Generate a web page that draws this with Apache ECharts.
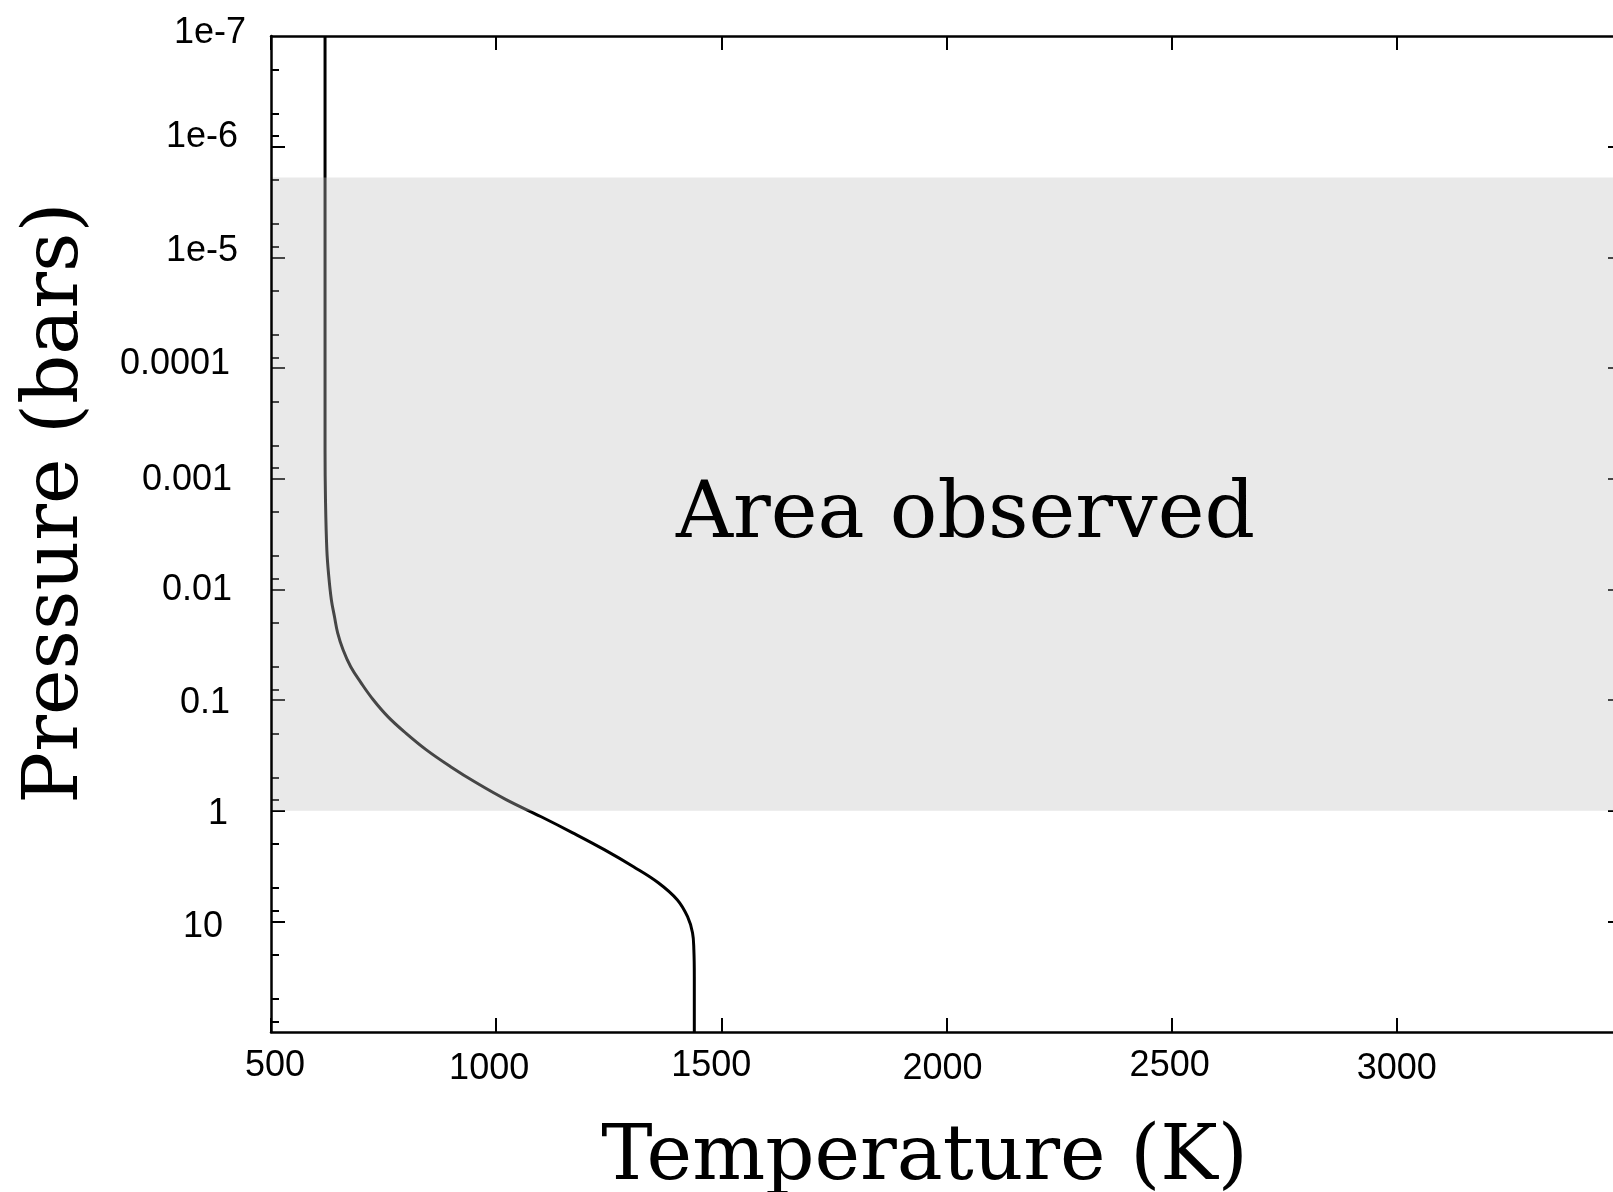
<!DOCTYPE html>
<html>
<head>
<meta charset="utf-8">
<title>Temperature–pressure profile</title>
<script src="https://cdn.jsdelivr.net/npm/echarts@6/dist/echarts.min.js"></script>
<style>
  html, body { margin: 0; padding: 0; background: #fff; overflow: hidden; }
  /* the plot frame runs a little past the right edge of the window */
  #chart { width: 1640px; height: 1192px; }
</style>
</head>
<body>
<div id="chart"></div>
<script>
// Temperature (K) of the profile at each pressure level (bars)
const pressureBar = [1e-7, 1e-5, 1e-4, 5.5e-4, 1.55e-3, 4.4e-3, 7.4e-3, 0.0124, 0.0177, 0.0247,
  0.0352, 0.0501, 0.070, 0.0995, 0.142, 0.200, 0.282, 0.398, 0.560, 0.794, 1.135, 1.585,
  2.25, 3.21, 4.48, 6.38, 9.08, 12.7, 18.1, 31.6, 100];
const temperatureK = [620, 620, 620, 620, 621, 624, 628, 634, 641, 648,
  660, 677, 700, 727, 760, 800, 845, 898, 956, 1022, 1100, 1170,
  1240, 1305, 1360, 1402, 1425, 1436, 1439, 1440, 1440];

// Pressure range covered by the observations
const observedBand = [1.9e-6, 1];
const observedLabel = 'Area observed';

// Axis ticks and labels
const xTicks = [500, 1000, 1500, 2000, 2500, 3000];
const yMajor = [1e-7, 1e-6, 1e-5, 1e-4, 1e-3, 0.01, 0.1, 1, 10];
const yLabels = ['1e-7', '1e-6', '1e-5', '0.0001', '0.001', '0.01', '0.1', '1', '10'];
const yMinorFactors = [2, 5, 8];

const yMinor = [];
for (let e = -7; e <= 1; e++) {
  yMinorFactors.forEach(f => yMinor.push(f * Math.pow(10, e)));
}

const tickFont = 'Liberation Sans, Arial, Helvetica, sans-serif';
const tickFontSize = 36;
const titleFont = '"DejaVu Serif", serif';

// small per-label nudges [dx, dy] of the tick labels
const yLabelNudge = [[0, -3], [8, -10], [8, -6], [16, -4], [14, 1], [14, 1], [16, 3], [18, 3], [23, 6]];
const xLabelNudge = [[4, 1], [-7, 4], [-10, 1], [-4, 4], [-2, 1], [0, 4]];

function richFor(prefix, nudges, vertical) {
  const rich = {};
  nudges.forEach((n, i) => {
    const dx = n[0], dy = n[1];
    let pad;
    if (vertical) {
      // right-aligned, middle: extra right padding moves left, vertical padding shifts by half
      pad = [dy > 0 ? 2 * dy : 0, dx, dy < 0 ? -2 * dy : 0, 0];
    } else {
      // centred, top-aligned
      pad = [dy, dx < 0 ? -2 * dx : 0, 0, dx > 0 ? 2 * dx : 0];
    }
    rich[prefix + i] = { fontSize: tickFontSize, fontFamily: tickFont, color: '#000', padding: pad };
  });
  return rich;
}

const profile = pressureBar.map((p, i) => [temperatureK[i], p]);

const axisLineStyle = { color: '#000', width: 2.5 };
const tickStyle = { color: '#000', width: 2 };

const logY = {
  type: 'log', logBase: 10, min: 1e-7, max: 100, inverse: true,
  splitLine: { show: false }, axisLabel: { show: false }, axisTick: { show: false },
  axisLine: { show: false }
};

const chart = echarts.init(document.getElementById('chart'), null, { renderer: 'canvas' });

chart.setOption({
  animation: false,
  backgroundColor: '#fff',
  grid: { left: 271, top: 36, right: 18, bottom: 160, containLabel: false, outerBoundsMode: 'none' },
  xAxis: [
    {
      type: 'value', min: 500, max: 3500, interval: 500, position: 'bottom',
      name: 'Temperature (K)', nameLocation: 'middle', nameGap: 88,
      nameTextStyle: { fontFamily: titleFont, fontSize: 77, color: '#000', padding: [0, 44, 0, 0] },
      axisLine: { show: true, lineStyle: axisLineStyle },
      axisTick: { show: true, inside: true, length: 14, lineStyle: tickStyle },
      axisLabel: {
        show: true, margin: 15, customValues: xTicks,
        formatter: v => '{x' + xTicks.indexOf(Math.round(v)) + '|' + Math.round(v) + '}',
        rich: richFor('x', xLabelNudge, false)
      },
      splitLine: { show: false }
    },
    {
      type: 'value', min: 500, max: 3500, interval: 500, position: 'top',
      axisLine: { show: true, lineStyle: axisLineStyle },
      axisTick: { show: true, inside: true, length: 14, lineStyle: tickStyle },
      axisLabel: { show: false }, splitLine: { show: false }
    }
  ],
  yAxis: [
    Object.assign({}, logY, {
      position: 'left', z: 10,
      name: 'Pressure (bars)', nameLocation: 'middle', nameGap: 176,
      nameTextStyle: { fontFamily: titleFont, fontSize: 77, color: '#000', padding: [0, 0, 0, 62] },
      axisLine: { show: true, lineStyle: axisLineStyle },
      axisLabel: {
        show: true, margin: 25, customValues: yMajor,
        formatter: v => {
          const i = Math.round(Math.log10(v)) + 7;
          return '{y' + i + '|' + yLabels[i] + '}';
        },
        rich: richFor('y', yLabelNudge, true)
      }
    }),
    Object.assign({}, logY, {
      position: 'left', z: 0,
      axisTick: { show: true, inside: true, length: 14, lineStyle: tickStyle, customValues: yMajor.slice(1) }
    }),
    Object.assign({}, logY, {
      position: 'left', z: 0,
      axisTick: { show: true, inside: true, length: 8, lineStyle: tickStyle, customValues: yMinor }
    }),
    Object.assign({}, logY, {
      position: 'right', z: 0,
      axisLine: { show: true, lineStyle: axisLineStyle },
      axisTick: { show: true, inside: true, length: 14, lineStyle: tickStyle, customValues: yMajor.slice(1) }
    })
  ],
  series: [
    {
      name: 'T-P profile', type: 'line', xAxisIndex: 0, yAxisIndex: 0, z: 2,
      data: profile, showSymbol: false, smooth: 0.4,
      lineStyle: { color: '#000', width: 3 }
    },
    {
      name: 'observed', type: 'line', xAxisIndex: 0, yAxisIndex: 0, z: 3,
      data: [], silent: true,
      markArea: {
        silent: true, z: 5,
        itemStyle: { color: 'rgba(195,195,195,0.36)' },
        label: {
          show: true, position: 'inside', offset: [19, 22],
          fontFamily: titleFont, fontSize: 79, color: '#000'
        },
        data: [[
          { name: observedLabel, xAxis: 'min', yAxis: observedBand[0] },
          { xAxis: 'max', yAxis: observedBand[1] }
        ]]
      }
    }
  ]
});
</script>
</body>
</html>
